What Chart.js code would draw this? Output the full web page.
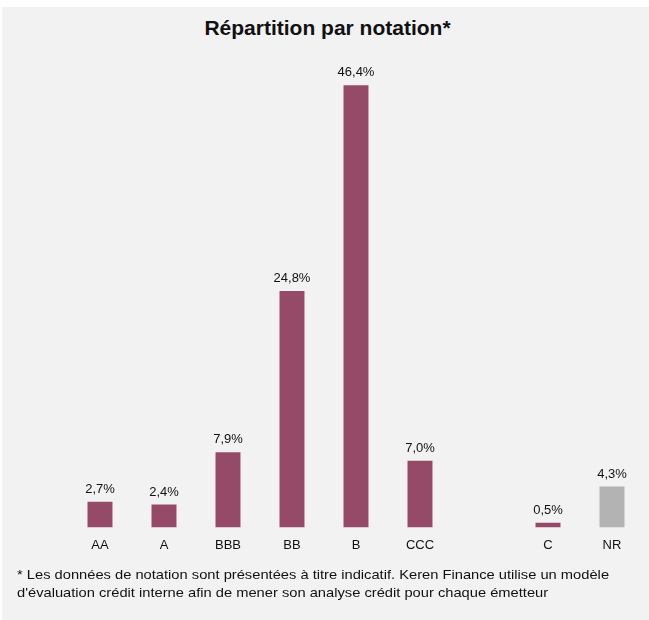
<!DOCTYPE html>
<html>
<head>
<meta charset="utf-8">
<script src="https://cdn.jsdelivr.net/npm/chart.js@4/dist/chart.umd.min.js"></script>
<style>
  body { margin: 0; background: #fff; font-family: "Liberation Sans", Arial, sans-serif; }
  #panel { position: absolute; left: 2px; top: 7px; width: 647px; height: 613px; background: #f2f2f2; }
  #title { position: absolute; left: 0; top: 16px; width: 655px; text-align: center; font-weight: bold; font-size: 21px; color: #111; }
  #wrap { position: absolute; left: 0; top: 0; width: 649px; height: 571px; }
  #note { position: absolute; left: 17px; top: 566px; font-size: 13px; line-height: 18px; color: #111; white-space: nowrap; transform: scaleX(1.13); transform-origin: left top; }
</style>
</head>
<body>
<div id="panel"></div>
<div id="title">Répartition par notation*</div>
<div id="wrap"><canvas id="barChart"></canvas></div>
<div id="note">* Les données de notation sont présentées à titre indicatif. Keren Finance utilise un modèle<br>d'évaluation crédit interne afin de mener son analyse crédit pour chaque émetteur</div>
<script>
var categories = ["AA", "A", "BBB", "BB", "B", "CCC", "", "C", "NR"];
var values = [2.7, 2.4, 7.9, 24.8, 46.4, 7.0, null, 0.5, 4.3];
var barColors = ["#954b67", "#954b67", "#954b67", "#954b67", "#954b67", "#954b67", "#954b67", "#954b67", "#b3b3b3"];

var valueLabels = {
    id: 'valueLabels',
    afterDatasetsDraw: function (chart) {
        var ctx = chart.ctx;
        var meta = chart.getDatasetMeta(0);
        ctx.save();
        ctx.font = '13px "Liberation Sans", Arial, sans-serif';
        ctx.fillStyle = '#111';
        ctx.textAlign = 'center';
        ctx.textBaseline = 'bottom';
        meta.data.forEach(function (bar, i) {
            if (values[i] === null) return;
            var txt = values[i].toFixed(1).replace('.', ',') + '%';
            ctx.fillText(txt, bar.x, bar.y - 6);
        });
        ctx.restore();
    }
};

var ctx = document.getElementById("barChart").getContext("2d");
new Chart(ctx, {
    type: 'bar',
    data: {
        labels: categories,
        datasets: [{
            data: values,
            backgroundColor: barColors,
            barPercentage: 0.39,
            categoryPercentage: 1
        }]
    },
    options: {
        responsive: true,
        maintainAspectRatio: false,
        animation: false,
        layout: { padding: { left: 68, right: 5, top: 51, bottom: 8 } },
        plugins: { legend: { display: false }, tooltip: { enabled: false } },
        scales: {
            x: {
                grid: { display: false, drawTicks: false },
                border: { display: false },
                ticks: { color: '#111', padding: 10, font: { family: '"Liberation Sans", Arial, sans-serif', size: 13 } }
            },
            y: { display: false, min: 0, max: 50 }
        }
    },
    plugins: [valueLabels]
});
</script>
</body>
</html>
